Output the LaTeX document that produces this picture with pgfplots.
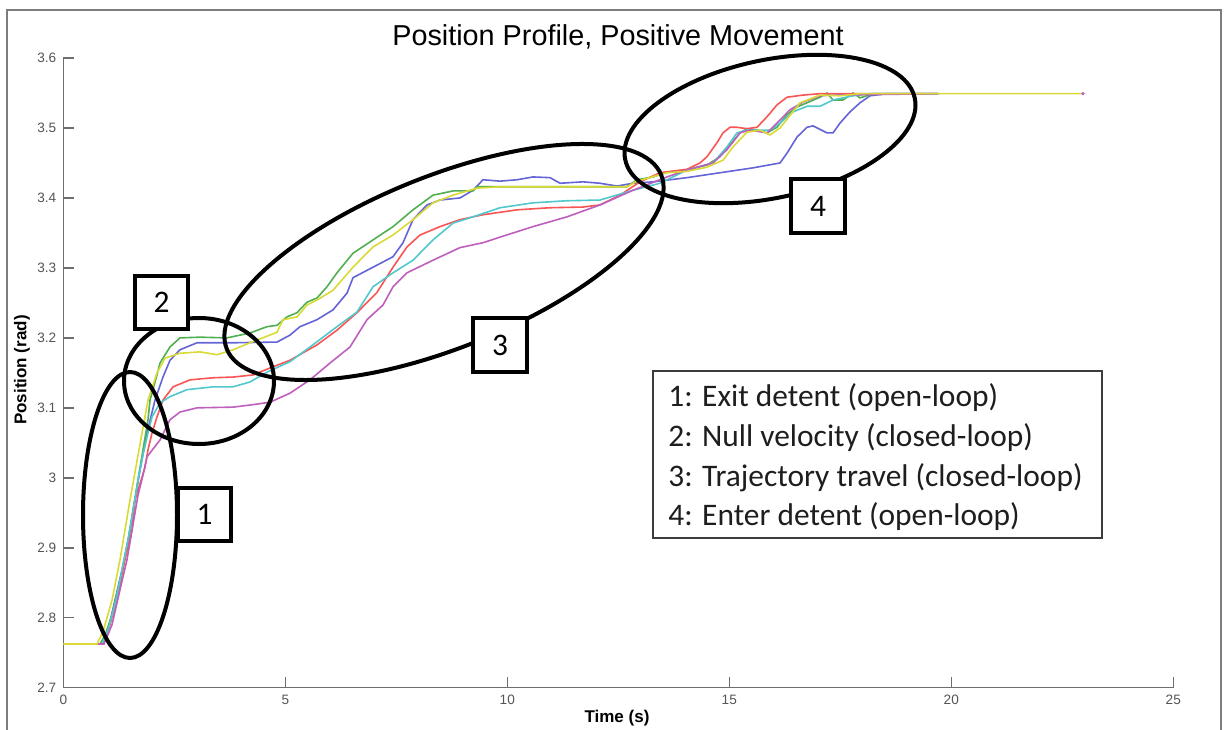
\documentclass[border=0pt]{standalone}
\usepackage{pgfplots}
\pgfplotsset{compat=1.18}
\usepackage{fontspec}
\setmainfont{Liberation Sans}
\newfontfamily\calibri{Carlito}
\definecolor{cB}{RGB}{100,100,215}
\definecolor{cG}{RGB}{80,175,80}
\definecolor{cR}{RGB}{250,85,85}
\definecolor{cC}{RGB}{80,200,205}
\definecolor{cM}{RGB}{190,95,190}
\definecolor{cY}{RGB}{218,218,55}
\definecolor{axgray}{RGB}{110,110,110}
\definecolor{tickgray}{RGB}{85,85,85}
\begin{document}
\begin{tikzpicture}
\path[use as bounding box] (0,0) rectangle (612.5pt,364.5pt);
\begin{axis}[
  at={(31.65pt,20.65pt)}, anchor=south west,
  scale only axis, width=555pt, height=314.85pt,
  xmin=0, xmax=25, ymin=2.7, ymax=3.6,
  axis x line=bottom, axis y line=left,
  axis line style={-, draw=axgray, line width=0.75pt},
  tick align=inside, major tick length=5.5pt,
  tick style={draw=axgray, line width=0.75pt},
  xtick={0,5,10,15,20,25},
  ytick={2.7,2.8,2.9,3.0,3.1,3.2,3.3,3.4,3.5,3.6},
  yticklabels={2.7,2.8,2.9,3,3.1,3.2,3.3,3.4,3.5,3.6},
  /pgf/number format/assume math mode=true,
  ticklabel style={font=\fontsize{6.8}{8}\selectfont, text=tickgray},
  clip=false,
]
\addplot[cB, line width=0.8pt] coordinates {
(0.714,2.7625)(0.872,2.7625)(1.007,2.7825)(1.164,2.825)(1.322,2.868)(1.457,2.911)(1.615,2.968)(1.727,3.011)(1.885,3.064)(2.065,3.111)(2.245,3.144)(2.403,3.168)(2.628,3.183)(3.011,3.193)(3.822,3.193)(4.813,3.194)(5.106,3.204)(5.331,3.216)(5.714,3.226)(6.074,3.240)(6.390,3.264)(6.525,3.286)(6.975,3.301)(7.426,3.316)(7.651,3.336)(7.876,3.369)(8.191,3.390)(8.484,3.397)(8.935,3.400)(9.228,3.411)(9.453,3.426)(9.836,3.424)(10.218,3.426)(10.579,3.430)(10.962,3.429)(11.187,3.421)(11.705,3.423)(12.088,3.421)(12.471,3.417)(12.831,3.421)(13.282,3.423)(14.047,3.429)(14.791,3.436)(15.534,3.443)(16.142,3.450)(16.300,3.464)(16.525,3.487)(16.750,3.501)(16.885,3.503)(17.200,3.493)(17.336,3.493)(17.493,3.507)(17.718,3.523)(17.944,3.536)(18.169,3.546)(18.552,3.549)(19.700,3.549)};
\addplot[cG, line width=0.8pt] coordinates {
(0.714,2.7625)(0.827,2.7625)(0.939,2.775)(1.097,2.804)(1.277,2.854)(1.457,2.904)(1.570,2.954)(1.682,2.997)(1.795,3.040)(1.908,3.083)(1.953,3.111)(2.110,3.147)(2.178,3.164)(2.245,3.171)(2.403,3.187)(2.628,3.200)(3.079,3.201)(3.687,3.200)(4.205,3.207)(4.588,3.216)(4.813,3.218)(5.038,3.230)(5.264,3.236)(5.489,3.251)(5.714,3.257)(5.939,3.273)(6.052,3.283)(6.164,3.293)(6.525,3.321)(6.975,3.340)(7.426,3.359)(7.876,3.383)(8.327,3.404)(8.777,3.410)(9.228,3.410)(9.318,3.416)(12.696,3.416)(12.921,3.426)(13.282,3.430)(13.597,3.437)(14.047,3.440)(14.498,3.447)(14.791,3.459)(15.016,3.476)(15.241,3.493)(15.399,3.499)(15.624,3.497)(15.849,3.493)(16.074,3.501)(16.300,3.519)(16.525,3.530)(16.750,3.536)(17.043,3.544)(17.200,3.550)(17.336,3.540)(17.561,3.540)(17.786,3.550)(17.944,3.543)(18.236,3.549)(19.700,3.549)};
\addplot[cR, line width=0.8pt] coordinates {
(0.714,2.7625)(0.894,2.7625)(1.052,2.790)(1.232,2.833)(1.389,2.883)(1.547,2.925)(1.615,2.968)(1.840,3.015)(1.908,3.040)(1.998,3.064)(2.110,3.087)(2.245,3.111)(2.471,3.130)(2.854,3.140)(3.372,3.143)(3.822,3.144)(4.273,3.147)(4.655,3.157)(5.106,3.168)(5.714,3.190)(6.164,3.211)(6.615,3.236)(7.065,3.265)(7.426,3.301)(7.741,3.330)(8.034,3.347)(8.484,3.359)(8.935,3.369)(9.453,3.376)(10.218,3.383)(10.962,3.386)(11.705,3.387)(12.088,3.390)(12.538,3.404)(12.989,3.423)(13.439,3.436)(14.047,3.441)(14.340,3.450)(14.498,3.459)(14.723,3.479)(14.858,3.493)(15.016,3.501)(15.173,3.501)(15.399,3.499)(15.624,3.501)(15.849,3.516)(16.074,3.533)(16.300,3.544)(16.660,3.547)(17.043,3.549)(19.700,3.549)};
\addplot[cC, line width=0.8pt] coordinates {
(0.714,2.7625)(0.872,2.7625)(1.007,2.7825)(1.187,2.825)(1.322,2.868)(1.457,2.911)(1.592,2.961)(1.705,3.004)(1.795,3.033)(1.908,3.064)(1.998,3.087)(2.178,3.107)(2.403,3.116)(2.786,3.126)(3.372,3.130)(3.822,3.130)(4.205,3.137)(4.588,3.151)(5.106,3.166)(5.556,3.187)(6.164,3.216)(6.615,3.237)(6.975,3.273)(7.426,3.293)(7.876,3.311)(8.327,3.340)(8.777,3.364)(9.228,3.373)(9.836,3.386)(10.579,3.393)(11.345,3.396)(12.088,3.397)(12.831,3.411)(13.439,3.421)(14.047,3.440)(14.633,3.450)(14.948,3.473)(15.173,3.493)(15.399,3.497)(15.917,3.497)(16.142,3.507)(16.435,3.523)(16.750,3.531)(17.043,3.531)(17.336,3.540)(17.786,3.546)(18.169,3.549)(19.745,3.549)};
\addplot[cM, line width=0.8pt] coordinates {
(0.714,2.7625)(0.917,2.7625)(1.097,2.790)(1.277,2.840)(1.435,2.883)(1.570,2.933)(1.682,2.975)(1.795,3.004)(1.885,3.030)(2.178,3.054)(2.403,3.083)(2.628,3.094)(3.011,3.100)(3.822,3.101)(4.205,3.104)(4.655,3.108)(5.106,3.121)(5.556,3.140)(6.007,3.164)(6.457,3.187)(6.840,3.226)(7.200,3.247)(7.426,3.273)(7.741,3.293)(8.327,3.311)(8.935,3.329)(9.453,3.336)(9.836,3.344)(10.579,3.359)(11.345,3.373)(12.088,3.390)(12.831,3.411)(13.597,3.430)(14.047,3.440)(14.633,3.450)(14.948,3.469)(15.241,3.493)(15.466,3.497)(15.849,3.493)(16.074,3.507)(16.367,3.526)(16.660,3.537)(17.043,3.546)(17.336,3.547)(19.700,3.549)};
\addplot[cY, line width=0.8pt] coordinates {
(0,2.7625)(0.759,2.7625)(0.894,2.780)(1.097,2.825)(1.277,2.883)(1.502,2.968)(1.773,3.064)(1.908,3.111)(2.110,3.150)(2.290,3.171)(2.628,3.178)(3.079,3.180)(3.462,3.176)(3.822,3.183)(4.205,3.193)(4.813,3.208)(4.948,3.226)(5.264,3.230)(5.489,3.247)(5.714,3.254)(6.074,3.268)(6.525,3.301)(6.975,3.330)(7.426,3.347)(7.876,3.369)(8.327,3.393)(8.777,3.404)(9.318,3.414)(9.836,3.416)(12.696,3.416)(12.921,3.424)(13.597,3.436)(14.047,3.438)(14.498,3.444)(14.858,3.454)(15.084,3.473)(15.399,3.494)(15.691,3.497)(15.917,3.490)(16.142,3.500)(16.367,3.518)(16.593,3.536)(17.043,3.547)(17.493,3.546)(17.944,3.549)(22.966,3.549)};
\addplot[cM, only marks, mark=*, mark size=0.6pt] coordinates {(22.966,3.549)};
\end{axis}
\begin{scope}[x=0.5pt, y=-0.5pt, yshift=364.5pt]
  \draw[color={rgb,255:red,125;green,125;blue,125}, line width=1pt] (7,732) -- (7,10) -- (1221,10) -- (1221,732);
  \node[font=\fontsize{14.4}{16}\selectfont] at (618,37) {Position Profile, Positive Movement};
  \node[font=\bfseries\fontsize{8.5}{10}\selectfont] at (617,718) {Time (s)};
  \node[font=\bfseries\fontsize{8.5}{10}\selectfont, rotate=90] at (22,370) {Position (rad)};
  \begin{scope}[line width=2pt]
    \draw (130,515) ellipse [x radius=47, y radius=143];
    \draw (199,381) ellipse [x radius=75, y radius=63];
    \draw[rotate around={21.8:(444,262)}] (444,262) ellipse [x radius=234, y radius=86];
    \draw[rotate around={12:(770,129)}] (770,129) ellipse [x radius=148, y radius=69];
  \end{scope}
  \begin{scope}[line width=2pt, font=\calibri\fontsize{15.7}{18}\selectfont]
    \filldraw[fill=white] (178,488) rectangle (231,541);
    \node at (204.5,514.5) {1};
    \filldraw[fill=white] (135,276) rectangle (188,329);
    \node at (161.5,302.5) {2};
    \filldraw[fill=white] (473,318) rectangle (527,372);
    \node at (500,345) {3};
    \filldraw[fill=white] (791,179) rectangle (845,233);
    \node at (818,206) {4};
  \end{scope}
  \filldraw[fill=white, draw={rgb,255:red,60;green,60;blue,60}, line width=0.6pt] (653,371) rectangle (1102,538);
  \begin{scope}[font=\calibri\fontsize{15.7}{18}\selectfont, text={rgb,255:red,30;green,30;blue,30}]
    \node[anchor=base west, inner sep=0pt] at (668,407) {1: Exit detent (open-loop)};
    \node[anchor=base west, inner sep=0pt] at (668,446.5) {2: Null velocity (closed-loop)};
    \node[anchor=base west, inner sep=0pt] at (668,486) {3: Trajectory travel (closed-loop)};
    \node[anchor=base west, inner sep=0pt] at (668,525.5) {4: Enter detent (open-loop)};
  \end{scope}
\end{scope}
\end{tikzpicture}
\end{document}
